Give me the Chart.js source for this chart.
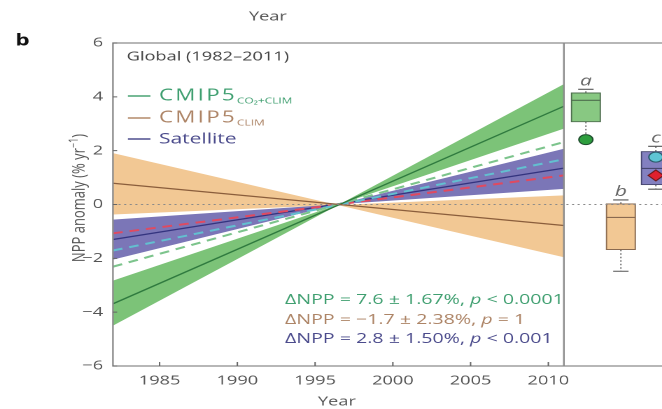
<!DOCTYPE html>
<html><head><meta charset="utf-8">
<script src="https://cdn.jsdelivr.net/npm/chart.js@4"></script>
<style>
html,body{margin:0;padding:0;background:#fff;overflow:hidden;width:662px;height:409px}
#wrap{position:absolute;left:0;top:0;width:473px;height:409px;transform:scaleX(1.39958);transform-origin:0 0}
</style></head><body><div id="wrap"><canvas id="c" width="473" height="409"></canvas></div>
<script>
// ---- data ----
const years = [1982, 2011];
const co2ClimMean   = [-3.69, 3.65];
const co2ClimEdgeA  = [-2.83, 2.82];
const co2ClimEdgeB  = [-4.50, 4.47];
const co2ClimDashed = [-2.31, 2.32];
const climMean  = [0.79, -0.78];
const climEdgeA = [1.91, -1.96];
const climEdgeB = [-0.37, 0.34];
const satMean   = [-1.30, 1.35];
const satEdgeA  = [-0.56, 0.58];
const satEdgeB  = [-2.05, 2.07];
const satCyanDashed = [-1.71, 1.68];
const satRedDashed  = [-1.07, 1.08];

const xTicks = [1985, 1990, 1995, 2000, 2005, 2010];
const yTicks = [-6, -4, -2, 0, 2, 4, 6];

const boxLabels = ['a', 'b', 'c'];
const boxPos    = [1, 2, 3];
const boxQ1     = [3.07, -1.68, 0.73];
const boxQ3     = [4.15, 0.03, 1.97];
const boxMedian = [3.87, -0.48, 1.34];
const whiskerHi = [4.28, 0.17, 2.16];
const whiskerLo = [2.41, -2.48, 0.57];
const lowCap    = [false, true, true];
const markerPos = [1, 3, 3];
const markerVal = [2.41, 1.76, 1.08];

const legendNames = ['CMIP5', 'CMIP5', 'Satellite'];
const legendSubs  = ['CO\u2082+CLIM', 'CLIM', ''];
const panelTitle = 'Global (1982\u20132011)';
const statText = [
  ['\u0394NPP = 7.6 \u00b1 1.67%, ', 'p', ' < 0.0001'],
  ['\u0394NPP = \u22121.7 \u00b1 2.38%, ', 'p', ' = 1'],
  ['\u0394NPP = 2.8 \u00b1 1.50%, ', 'p', ' < 0.001']
];

// ---- styles ----
const F = '"Open Sans", "DejaVu Sans", sans-serif';
const C = {
  gFill:'#7cc378', gLine:'#2f7a3f', gDash:'#7cc48c',
  tFill:'#f2c894', tLine:'#8b5e3c',
  pFill:'#7b76b7', pLine:'#34347f', cyan:'#63bfd0', red:'#e04a60',
  gText:'#3f9f70', tText:'#ad8466', pText:'#4b4b8c'
};
const pts = v => years.map((x, i) => ({x, y: v[i]}));
const band = (v, color, ord, fill) => ({type:'line', data:pts(v), borderWidth:0, pointRadius:0,
  backgroundColor:color, borderColor:'rgba(0,0,0,0)', fill: fill ? '+1' : false, order:ord});
const line = (v, color, w, dash) => ({type:'line', data:pts(v), borderWidth:w, pointRadius:0,
  borderColor:color, borderDash:dash || [], fill:false, order:1});

const datasets = [
  band(climEdgeA, C.tFill, 10, true), band(climEdgeB, C.tFill, 10, false),
  band(co2ClimEdgeA, C.gFill, 9, true), band(co2ClimEdgeB, C.gFill, 9, false),
  band(satEdgeA, C.pFill, 8, true), band(satEdgeB, C.pFill, 8, false),
  line(climMean, C.tLine, 1.3),
  line(co2ClimMean, C.gLine, 1.3),
  line(co2ClimDashed, C.gDash, 2, [7, 5]),
  line(satCyanDashed, C.cyan, 2, [7, 5]),
  line(satRedDashed, C.red, 2, [7, 5]),
  line(satMean, C.pLine, 1.3),
  {type:'bar', xAxisID:'x2', grouped:false, data: boxPos.map((p, i) => ({x:p, y:[boxQ1[i], boxQ3[i]]})),
   backgroundColor:['#88c882', '#f2c894', '#8380c0'], borderColor:['#4e6e4e', '#8a6a50', '#46466e'],
   borderWidth:1, borderSkipped:false, barThickness:21, order:0},
  {type:'scatter', xAxisID:'x2', data: markerPos.map((p, i) => ({x:p, y:markerVal[i]})),
   pointStyle:['circle', 'circle', 'rectRot'], pointRadius:[5, 5, 5.5],
   backgroundColor:['#2e9e3e', '#5ec4d4', '#e0202e'], borderColor:['#1e4e2e', '#2a5a6a', '#6a1a1a'],
   borderWidth:1, order:-1}
];

function segs(ctx, x, y, parts) {
  for (const p of parts) {
    ctx.font = p.font; ctx.fillStyle = p.color;
    ctx.letterSpacing = p.ls || '0px';
    ctx.fillText(p.t, x, y + (p.dy || 0));
    x += ctx.measureText(p.t).width;
  }
  ctx.letterSpacing = '0px';
  return x;
}

const decor = {
  id:'decor',
  beforeDraw(chart) {
    const ctx = chart.ctx; ctx.save(); ctx.fillStyle = '#fff';
    ctx.fillRect(0, 0, chart.width, chart.height); ctx.restore();
  },
  beforeDatasetsDraw(chart) {
    const {ctx, scales:{x2, y}} = chart;
    ctx.save();
    boxPos.forEach((p, i) => {
      const cx = x2.getPixelForValue(p);
      ctx.strokeStyle = '#8a8a8a'; ctx.lineWidth = 1.2; ctx.setLineDash([1.5, 2]);
      ctx.beginPath();
      ctx.moveTo(cx, y.getPixelForValue(boxQ3[i])); ctx.lineTo(cx, y.getPixelForValue(whiskerHi[i]));
      ctx.moveTo(cx, y.getPixelForValue(boxQ1[i])); ctx.lineTo(cx, y.getPixelForValue(whiskerLo[i]));
      ctx.stroke();
      ctx.setLineDash([]); ctx.strokeStyle = '#555'; ctx.lineWidth = 1.1;
      ctx.beginPath();
      const hy = y.getPixelForValue(whiskerHi[i]);
      ctx.moveTo(cx - 5.5, hy); ctx.lineTo(cx + 5.5, hy);
      if (lowCap[i]) { const ly = y.getPixelForValue(whiskerLo[i]); ctx.moveTo(cx - 5.5, ly); ctx.lineTo(cx + 5.5, ly); }
      ctx.stroke();
      ctx.fillStyle = '#666'; ctx.font = 'italic 15px ' + F; ctx.textAlign = 'center'; ctx.textBaseline = 'middle';
      ctx.fillText(boxLabels[i], cx, hy - 8);
    });
    ctx.restore();
  },
  afterDatasetsDraw(chart) {
    const {ctx, chartArea:a, scales:{x, x2, y}} = chart;
    ctx.save();
    // medians
    boxPos.forEach((p, i) => {
      const cx = x2.getPixelForValue(p), my = y.getPixelForValue(boxMedian[i]);
      ctx.strokeStyle = ['#4e6e4e', '#8a6a50', '#46466e'][i]; ctx.lineWidth = 1.2;
      ctx.beginPath(); ctx.moveTo(cx - 10.5, my); ctx.lineTo(cx + 10.5, my); ctx.stroke();
    });
    // zero dotted line
    const y0 = y.getPixelForValue(0);
    ctx.strokeStyle = '#8a8a8a'; ctx.lineWidth = 1.1; ctx.setLineDash([1.5, 2.5]);
    ctx.beginPath(); ctx.moveTo(a.left, y0); ctx.lineTo(a.right, y0); ctx.stroke();
    ctx.setLineDash([]);
    // frame
    const xd = x.getPixelForValue(years[years.length - 1]);
    ctx.strokeStyle = '#8c8c8c'; ctx.lineWidth = 1.2;
    ctx.beginPath();
    ctx.moveTo(a.right + 2, a.top); ctx.lineTo(a.left, a.top); ctx.lineTo(a.left, a.bottom); ctx.lineTo(a.right + 2, a.bottom);
    ctx.moveTo(xd, a.top); ctx.lineTo(xd, a.bottom);
    ctx.stroke();
    // inner ticks
    ctx.strokeStyle = '#666'; ctx.lineWidth = 1;
    ctx.beginPath();
    yTicks.forEach(v => { const py = y.getPixelForValue(v); ctx.moveTo(a.left, py); ctx.lineTo(a.left + 3, py); });
    xTicks.forEach(v => { const px = x.getPixelForValue(v); ctx.moveTo(px, a.bottom); ctx.lineTo(px, a.bottom - 4); });
    ctx.stroke();
    // texts
    ctx.textBaseline = 'middle'; ctx.textAlign = 'left';
    ctx.fillStyle = '#444'; ctx.font = '13px ' + F;
    ctx.fillText(panelTitle, 90.5, 57);
    const lc = [C.gText, C.tText, C.pText];
    const ll = ['#4aa374', '#b48a6a', '#4e4e8e'];
    const ly = [96, 118, 139];
    legendNames.forEach((n, i) => {
      ctx.strokeStyle = ll[i]; ctx.lineWidth = 1.6;
      ctx.beginPath(); ctx.moveTo(91.4, ly[i]); ctx.lineTo(107.5, ly[i]); ctx.stroke();
      const main = legendSubs[i] ? {t:n, font:'16px ' + F, color:lc[i], ls:'1.6px'} : {t:n, font:'15px ' + F, color:lc[i]};
      const xe = segs(ctx, 113.6, ly[i], [main]);
      if (legendSubs[i]) segs(ctx, xe, ly[i] + 5, [{t:legendSubs[i], font:'8.5px ' + F, color:lc[i]}]);
    });
    const sy = [300, 320, 339];
    statText.forEach((s, i) => {
      segs(ctx, 203.6, sy[i], [
        {t:s[0], font:'14px ' + F, color:lc[i]},
        {t:s[1], font:'italic 14px ' + F, color:lc[i]},
        {t:s[2], font:'14px ' + F, color:lc[i]}]);
    });
    // axis titles
    ctx.fillStyle = '#555'; ctx.font = '13px ' + F; ctx.textAlign = 'center';
    ctx.fillText('Year', 240.7, 402);
    ctx.fillText('Year', 191.4, 17);
    ctx.fillStyle = '#111'; ctx.font = 'bold 16px ' + F; ctx.textAlign = 'left';
    ctx.fillText('b', 11, 41);
    ctx.save();
    ctx.translate(57, 198); ctx.rotate(-Math.PI / 2);
    ctx.textAlign = 'left'; ctx.textBaseline = 'middle';
    const parts = [{t:'NPP anomaly (% yr', font:'13px ' + F, color:'#555'},
      {t:'\u22121', font:'9px ' + F, color:'#555', dy:-4},
      {t:')', font:'13px ' + F, color:'#555'}];
    let w = 0; parts.forEach(p => { ctx.font = p.font; w += ctx.measureText(p.t).width; });
    segs(ctx, -w / 2, 0, parts);
    ctx.restore();
    ctx.restore();
  }
};

new Chart(document.getElementById('c'), {
  data:{datasets},
  options:{
    responsive:false, animation:false, devicePixelRatio:2,
    layout:{autoPadding:false, padding:{top:43, left:0, right:0, bottom:0}},
    plugins:{legend:{display:false}, tooltip:{enabled:false}},
    scales:{
      x:{type:'linear', min:1982, max:2017.31, position:'bottom', offset:false,
        grid:{display:false, drawTicks:false, offset:false}, border:{display:false},
        ticks:{font:{family:F, size:13}, color:'#555', padding:7, maxRotation:0, autoSkip:false, callback:v => String(v)},
        afterBuildTicks:s => { s.ticks = xTicks.map(v => ({value:v})); },
        afterFit:s => { s.height = 43; s.paddingLeft = 0; s.paddingRight = 0; }},
      x2:{type:'linear', display:false, position:'bottom', offset:false, grid:{offset:false}, min:-12.516, max:3.176,
        afterFit:s => { s.height = 0; s.paddingLeft = 0; s.paddingRight = 0; }},
      y:{type:'linear', min:-6, max:6, position:'left',
        grid:{display:false, drawTicks:false}, border:{display:false},
        ticks:{font:{family:F, size:13}, color:'#555', padding:7, callback:v => v < 0 ? '\u2212' + Math.abs(v) : String(v)},
        afterBuildTicks:s => { s.ticks = yTicks.map(v => ({value:v})); },
        afterFit:s => { s.width = 80.7; s.paddingTop = 0; s.paddingBottom = 0; }}
    }
  },
  plugins:[decor]
});
</script></body></html>
